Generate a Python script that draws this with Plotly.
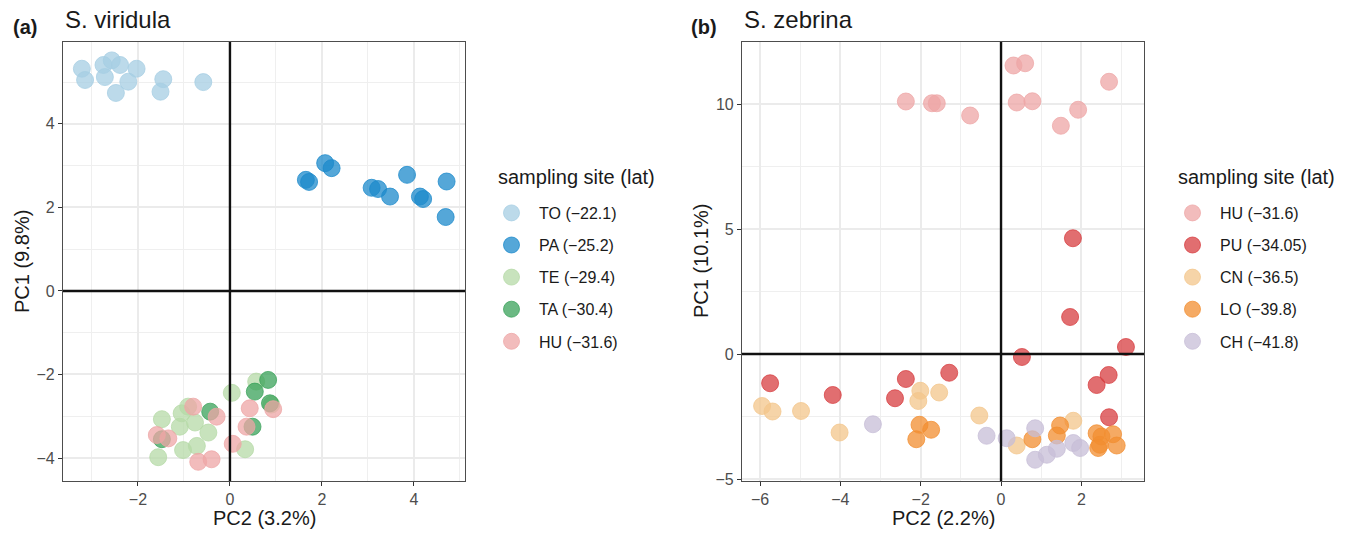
import plotly.graph_objects as go

# ---------------- data: panel (a) S. viridula ----------------
a_sites = ["TO (\u221222.1)", "PA (\u221225.2)", "TE (\u221229.4)", "TA (\u221230.4)", "HU (\u221231.6)"]
a_colors = ["#A6CEE3", "#1C8ACB", "#B5D9A7", "#3AA25A", "#EEA6A6"]

a_TO_pc2 = [-3.22, -3.15, -2.75, -2.72, -2.57, -2.39, -2.48, -2.21, -2.03, -1.45, -1.51, -0.58]
a_TO_pc1 = [5.32, 5.05, 5.41, 5.12, 5.52, 5.41, 4.74, 5.01, 5.32, 5.07, 4.77, 5.00]

a_PA_pc2 = [1.65, 1.72, 2.07, 2.21, 3.08, 3.22, 3.48, 3.85, 4.13, 4.20, 4.71, 4.69]
a_PA_pc1 = [2.66, 2.61, 3.06, 2.94, 2.47, 2.44, 2.26, 2.78, 2.26, 2.20, 2.62, 1.77]

a_TE_pc2 = [-1.48, -1.56, -1.02, -1.09, -1.05, -0.91, -0.76, -0.72, -0.47, 0.04, 0.57, 0.33, 0.90]
a_TE_pc1 = [-3.07, -3.98, -3.81, -3.25, -2.93, -2.77, -3.15, -3.71, -3.39, -2.44, -2.17, -3.79, -2.72]

a_TA_pc2 = [-1.48, -0.43, 0.54, 0.83, 0.87, 0.49]
a_TA_pc1 = [-3.55, -2.89, -2.41, -2.13, -2.69, -3.25]

a_HU_pc2 = [-1.59, -1.34, -0.80, -0.29, -0.69, -0.40, 0.06, 0.43, 0.36, 0.94]
a_HU_pc1 = [-3.45, -3.53, -2.77, -3.01, -4.09, -4.03, -3.66, -2.81, -3.25, -2.83]

# ---------------- data: panel (b) S. zebrina ----------------
b_sites = ["HU (\u221231.6)", "PU (\u221234.05)", "CN (\u221236.5)", "LO (\u221239.8)", "CH (\u221241.8)"]
b_colors = ["#EEA6A6", "#D73E40", "#F3C68B", "#F28E30", "#C7BED7"]

b_HU_pc2 = [0.31, 0.60, 2.69, -2.37, -1.72, -1.60, -0.77, 0.39, 0.78, 1.49, 1.92]
b_HU_pc1 = [11.54, 11.63, 10.89, 10.10, 10.03, 10.03, 9.54, 10.06, 10.11, 9.13, 9.77]

b_PU_pc2 = [1.79, 1.72, 0.52, 3.11, -5.75, -4.19, -2.37, -2.64, -1.29, 2.38, 2.68, 2.69]
b_PU_pc1 = [4.63, 1.48, -0.12, 0.28, -1.17, -1.64, -1.00, -1.77, -0.75, -1.24, -0.84, -2.53]

b_CN_pc2 = [-5.95, -5.69, -4.98, -4.02, -2.01, -2.06, -1.54, -0.54, 0.39, 1.80]
b_CN_pc1 = [-2.08, -2.30, -2.28, -3.14, -1.47, -1.88, -1.54, -2.46, -3.66, -2.67]

b_LO_pc2 = [-2.03, -1.74, -2.11, 0.78, 1.47, 1.39, 2.38, 2.46, 2.79, 2.88, 2.50, 2.42]
b_LO_pc1 = [-2.83, -3.03, -3.41, -3.41, -2.86, -3.26, -3.17, -3.63, -3.21, -3.66, -3.30, -3.76]

b_CH_pc2 = [-3.19, -0.36, 0.14, 0.85, 0.85, 1.14, 1.39, 1.80, 1.97]
b_CH_pc1 = [-2.81, -3.27, -3.37, -2.97, -4.23, -4.03, -3.79, -3.56, -3.76]

a_x_title, a_y_title = "PC2 (3.2%)", "PC1 (9.8%)"
b_x_title, b_y_title = "PC2 (2.2%)", "PC1 (10.1%)"
legend_title = "sampling site (lat)"

# ---------------- figure ----------------
W, H = 1354, 533
FONT = "Liberation Sans, Arial, Helvetica, sans-serif"
ALPHA = 0.75


def rgba(hexc, a):
    hexc = hexc.lstrip("#")
    r, g, b = int(hexc[0:2], 16), int(hexc[2:4], 16), int(hexc[4:6], 16)
    return f"rgba({r},{g},{b},{a})"


fig = go.Figure()

a_data = [(a_TO_pc2, a_TO_pc1), (a_PA_pc2, a_PA_pc1), (a_TE_pc2, a_TE_pc1),
          (a_TA_pc2, a_TA_pc1), (a_HU_pc2, a_HU_pc1)]
b_data = [(b_HU_pc2, b_HU_pc1), (b_PU_pc2, b_PU_pc1), (b_CN_pc2, b_CN_pc1),
          (b_LO_pc2, b_LO_pc1), (b_CH_pc2, b_CH_pc1)]

for i, (name, col, (xs, ys)) in enumerate(zip(a_sites, a_colors, a_data)):
    fig.add_trace(go.Scatter(
        x=xs, y=ys, mode="markers", name=name, xaxis="x", yaxis="y",
        legend="legend", legendgroup=f"a{i}",
        marker=dict(size=17, color=rgba(col, ALPHA), line=dict(color=rgba(col, ALPHA), width=1)),
    ))

for i, (name, col, (xs, ys)) in enumerate(zip(b_sites, b_colors, b_data)):
    fig.add_trace(go.Scatter(
        x=xs, y=ys, mode="markers", name=name, xaxis="x2", yaxis="y2",
        legend="legend2", legendgroup=f"b{i}",
        marker=dict(size=17, color=rgba(col, ALPHA), line=dict(color=rgba(col, ALPHA), width=1)),
    ))

px_x = lambda p: p / W
px_y = lambda p: 1 - p / H

dom_a = [px_x(63), px_x(465)]
dom_b = [px_x(742), px_x(1144)]
dom_y = [px_y(481), px_y(42)]

axis_common = dict(
    automargin=False,
    showgrid=True, gridcolor="#EBEBEB", gridwidth=1.5,
    zeroline=False, showline=True, mirror=True, linecolor="#4D4D4D", linewidth=1.2,
    ticks="outside", ticklen=4, tickcolor="#333333", tickwidth=1.2,
    tickfont=dict(family=FONT, size=16, color="#4D4D4D"),
)


def minor(dt):
    return dict(showgrid=True, gridcolor="#EFEFEF", gridwidth=1, dtick=dt, tick0=0)


legend_common = dict(
    xanchor="left", yanchor="top",
    font=dict(family=FONT, size=16, color="#1A1A1A"),
    tracegroupgap=8.3, itemsizing="trace", itemwidth=45, bgcolor="rgba(0,0,0,0)",
)

fig.update_layout(
    width=W, height=H,
    margin=dict(l=0, r=0, t=0, b=0, autoexpand=False),
    paper_bgcolor="white", plot_bgcolor="white",
    font=dict(family=FONT, color="#1A1A1A"),
    showlegend=True,
    xaxis=dict(domain=dom_a, range=[-3.63, 5.11], dtick=2, tick0=0, anchor="y", minor=minor(1), **axis_common),
    yaxis=dict(domain=dom_y, range=[-4.55, 5.96], dtick=2, tick0=0, anchor="x", minor=minor(1), **axis_common),
    xaxis2=dict(domain=dom_b, range=[-6.45, 3.56], dtick=2, tick0=0, anchor="y2", minor=minor(1), **axis_common),
    yaxis2=dict(domain=dom_y, range=[-5.08, 12.48], dtick=5, tick0=0, anchor="x2", minor=minor(2.5), **axis_common),
    legend=dict(x=px_x(484), y=px_y(196), **legend_common),
    legend2=dict(x=px_x(1165), y=px_y(196), **legend_common),
)

# zero reference lines (drawn above points, like geom_hline/vline)
for xr, yr in [("x", "y"), ("x2", "y2")]:
    fig.add_shape(type="line", xref=xr, yref=f"{yr} domain", x0=0, x1=0, y0=0, y1=1,
                  line=dict(color="#111111", width=2.4), layer="above")
    fig.add_shape(type="line", xref=f"{xr} domain", yref=yr, x0=0, x1=1, y0=0, y1=0,
                  line=dict(color="#111111", width=2.4), layer="above")

ann = []
# panel tags and titles
ann.append(dict(text="<b>(a)</b>", x=px_x(25), y=px_y(27), xanchor="center", yanchor="middle",
                font=dict(family=FONT, size=20, color="#1A1A1A")))
ann.append(dict(text="S. viridula", x=px_x(63), y=px_y(19), xanchor="left", yanchor="middle",
                font=dict(family=FONT, size=24, color="#1A1A1A")))
ann.append(dict(text="<b>(b)</b>", x=px_x(704), y=px_y(27), xanchor="center", yanchor="middle",
                font=dict(family=FONT, size=20, color="#1A1A1A")))
ann.append(dict(text="S. zebrina", x=px_x(742), y=px_y(19), xanchor="left", yanchor="middle",
                font=dict(family=FONT, size=24, color="#1A1A1A")))
# legend titles
ann.append(dict(text=legend_title, x=px_x(496), y=px_y(176.5), xanchor="left", yanchor="middle",
                font=dict(family=FONT, size=20, color="#1A1A1A")))
ann.append(dict(text=legend_title, x=px_x(1176), y=px_y(176.5), xanchor="left", yanchor="middle",
                font=dict(family=FONT, size=20, color="#1A1A1A")))
# axis titles
ann.append(dict(text=a_x_title, x=px_x(264), y=px_y(518), xanchor="center", yanchor="middle",
                font=dict(family=FONT, size=20, color="#1A1A1A")))
ann.append(dict(text=b_x_title, x=px_x(943), y=px_y(518), xanchor="center", yanchor="middle",
                font=dict(family=FONT, size=20, color="#1A1A1A")))
ann.append(dict(text=a_y_title, x=px_x(22), y=px_y(261), xanchor="center", yanchor="middle", textangle=-90,
                font=dict(family=FONT, size=20, color="#1A1A1A")))
ann.append(dict(text=b_y_title, x=px_x(701), y=px_y(261), xanchor="center", yanchor="middle", textangle=-90,
                font=dict(family=FONT, size=20, color="#1A1A1A")))
for a in ann:
    a.update(xref="paper", yref="paper", showarrow=False)
fig.update_layout(annotations=ann)

fig.write_html("out.html")
